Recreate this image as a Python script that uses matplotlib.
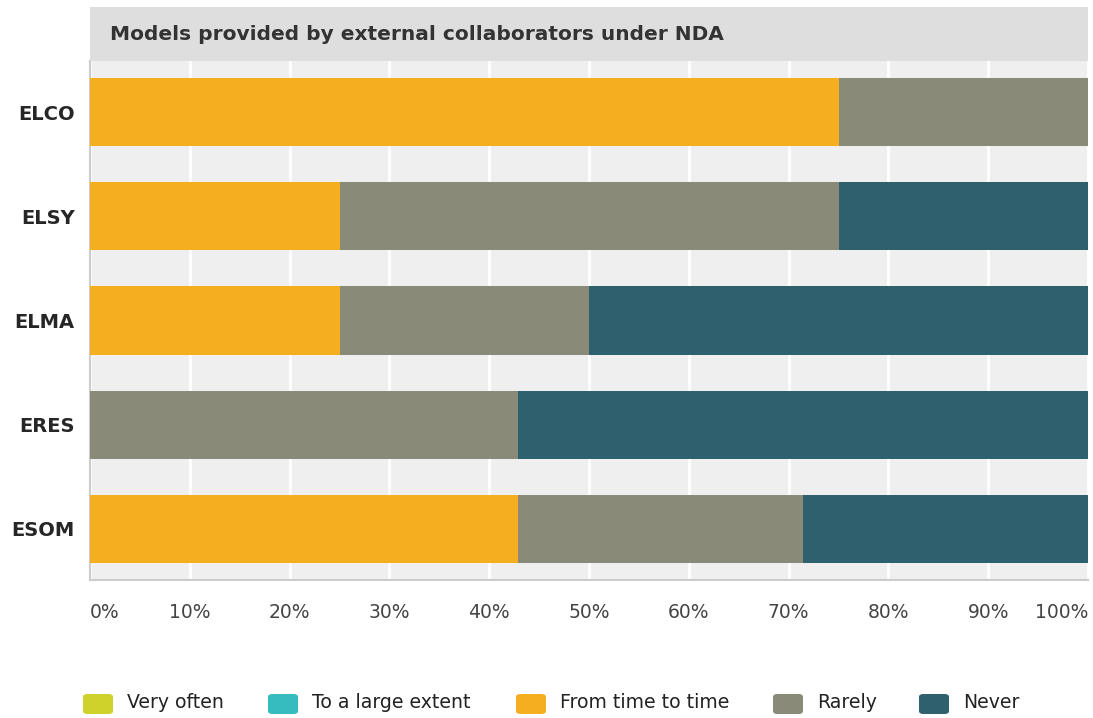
import numpy as np
import matplotlib.pyplot as plt
from matplotlib.patches import FancyBboxPatch

plt.rcParams['font.family'] = ['DejaVu Sans', 'Liberation Sans']

# survey answers per model (share of respondents, %)
models = ["ELCO", "ELSY", "ELMA", "ERES", "ESOM"]
levels = ["Very often", "To a large extent", "From time to time", "Rarely", "Never"]
colors = ["#cfd22b", "#35bcbf", "#f5ae1f", "#8a8a79", "#2e606d"]

very_often = [0, 0, 0, 0, 0]
large_extent = [0, 0, 0, 0, 0]
time_to_time = [75, 25, 25, 0, 300 / 7]
rarely = [25, 50, 25, 300 / 7, 200 / 7]
never = [0, 25, 50, 400 / 7, 200 / 7]

series = [very_often, large_extent, time_to_time, rarely, never]
tick_vals = np.arange(0, 101, 10)
tick_labels = [f"{v}%" for v in tick_vals]

W, H = 1093, 718
fig = plt.figure(figsize=(W / 100, H / 100), dpi=100)

def fx(px):
    return px / W

def fy(py):
    return 1 - py / H

ax = fig.add_axes([fx(90), fy(580), fx(1088) - fx(90), fy(61) - fy(580)])
ax.set_facecolor("#efefef")

y = np.arange(len(models))
left = np.zeros(len(models))
for vals, col in zip(series, colors):
    vals = np.array(vals, dtype=float)
    ax.barh(y, vals, left=left, height=0.655, color=col, zorder=3)
    left += vals

ax.set_xlim(0, 100)
ax.set_ylim(len(models) - 0.51, -0.49)
ax.set_xticks(tick_vals)
ax.xaxis.grid(True, color="white", linewidth=2, zorder=1)
ax.set_yticks(y)
ax.set_yticklabels(models, fontsize=14, fontweight="bold", color="#262626")
ax.tick_params(axis="y", length=0, pad=11)
ax.tick_params(axis="x", length=0, labelbottom=False)
for side in ["top", "right"]:
    ax.spines[side].set_visible(False)
for side in ["left", "bottom"]:
    ax.spines[side].set_color("#cccccc")
    ax.spines[side].set_linewidth(1.5)

# percent labels, ends kept inside the panel
for v, lab in zip(tick_vals, tick_labels):
    ha = "center"
    if v == 0:
        ha = "left"
    elif v == 100:
        ha = "right"
    ax.text(v, -0.062, lab, transform=ax.get_xaxis_transform(), ha=ha, va="center",
            fontsize=13.5, color="#444444")

# facet strip
strip = fig.add_axes([fx(90), fy(61), fx(1088) - fx(90), fy(7) - fy(61)])
strip.set_facecolor("#dedede")
strip.set_xticks([])
strip.set_yticks([])
for s in strip.spines.values():
    s.set_visible(False)
strip.text(20 / (1088 - 90), 0.5, "Models provided by external collaborators under NDA",
           transform=strip.transAxes, ha="left", va="center", fontsize=14.5,
           fontweight="bold", color="#333333")

# legend along the bottom
patch_x = [83, 268, 516, 773, 919]
for px, lab, col in zip(patch_x, levels, colors):
    fig.patches.append(FancyBboxPatch((fx(px), fy(714)), fx(30), fy(694) - fy(714),
                                      boxstyle="round,pad=0,rounding_size=0.004",
                                      transform=fig.transFigure, facecolor=col,
                                      edgecolor="none"))
    fig.text(fx(px + 44), fy(703), lab, ha="left", va="center", fontsize=13.6,
             color="#222222")

fig.savefig("out.png", dpi=100)
